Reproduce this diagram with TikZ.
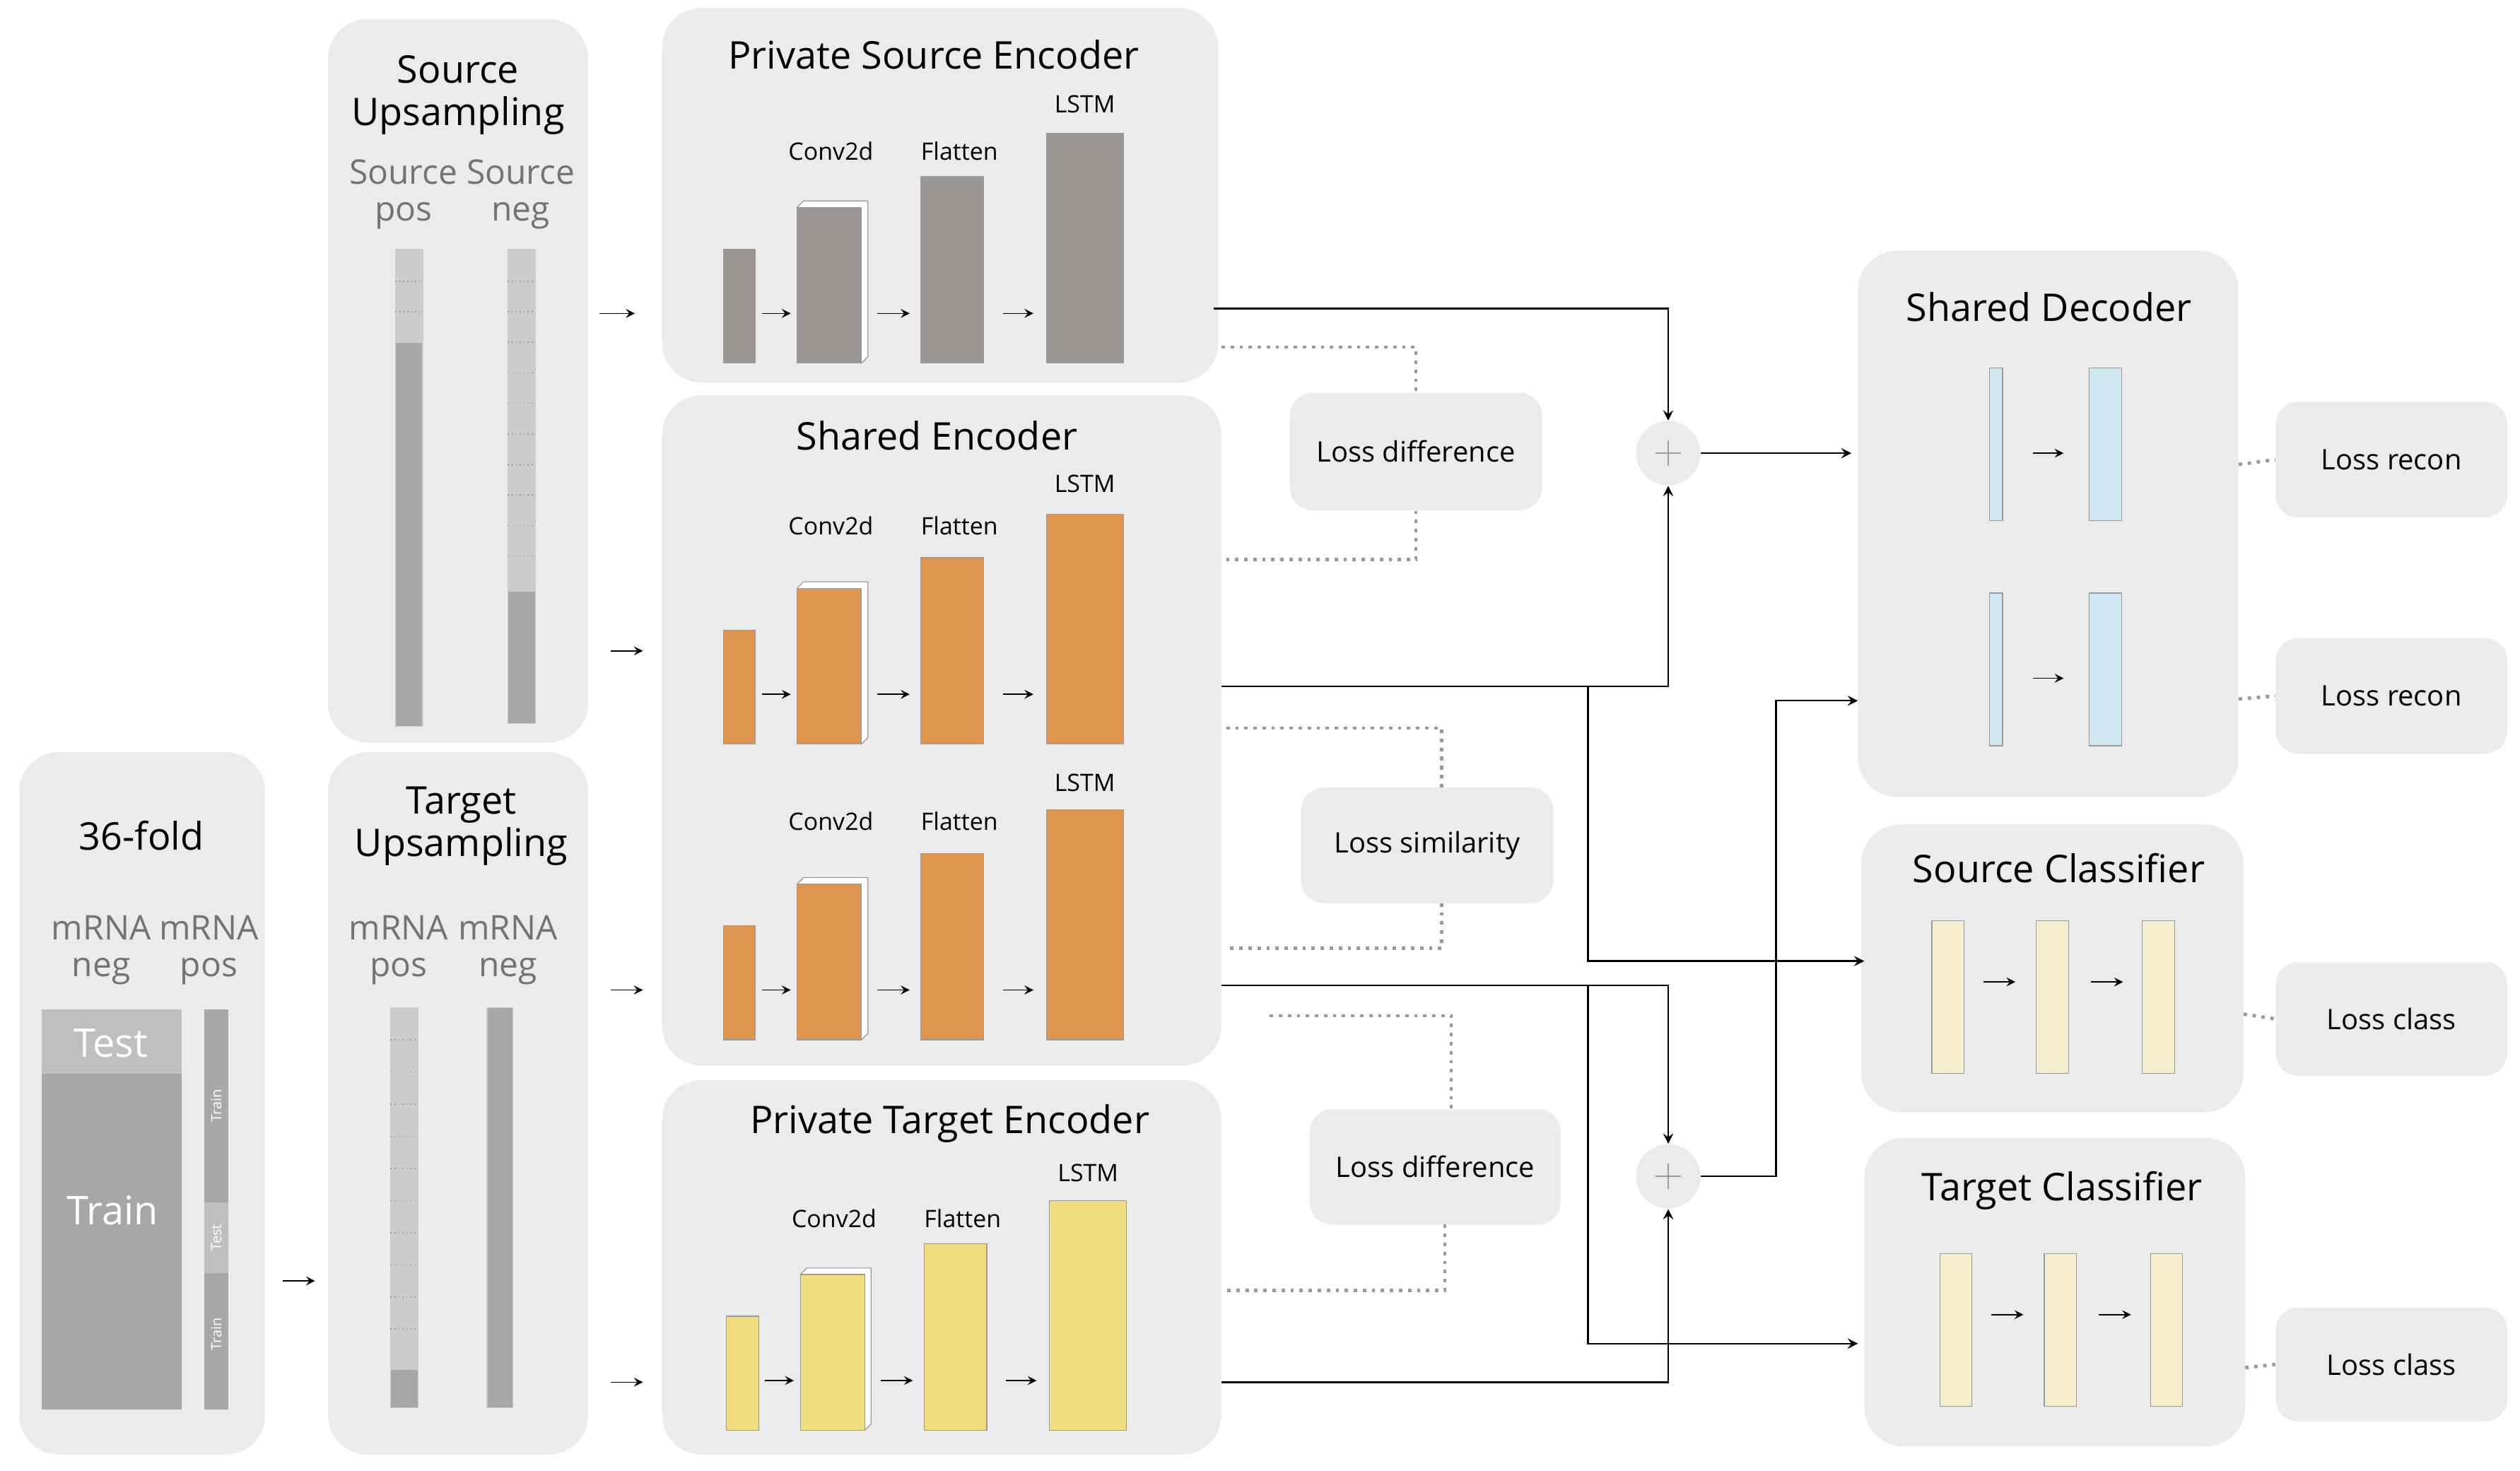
\documentclass[tikz,border=0pt]{standalone}
\usepackage{fontspec}
\setmainfont{Open Sans}
\begin{document}
\begin{tikzpicture}[x=0.02cm,y=-0.02cm,
 panel/.style={fill=black!8,draw=none,rounded corners=14},
 lbox/.style={fill=black!8,draw=none,rounded corners=8},
 ttl/.style={font=\fontsize{13.5}{15}\selectfont},
 sml/.style={font=\fontsize{8.5}{10}\selectfont},
 lss/.style={font=\fontsize{10}{12}\selectfont},
 gtx/.style={font=\fontsize{12}{13}\selectfont,text=black!55,align=center},
 arr/.style={->,>=stealth,thin},
 con/.style={->,>=stealth,line width=0.6pt},
 dot/.style={dotted,line width=1.2pt,black!40},
 gbar/.style={fill=gray!75!black!55,draw=white!80!black,line width=0.3pt},
 lbar/.style={fill=black!20,draw=white!80!black,line width=0.3pt}]
\definecolor{og}{HTML}{E0954E}\definecolor{yw}{HTML}{EEDC7E}
\definecolor{bl}{HTML}{CFE6F3}\definecolor{cr}{HTML}{F5EDCB}\definecolor{gy}{HTML}{9B9594}
\useasboundingbox (0,0) rectangle (1568,915);
% panels
\draw[panel] (12,468) rectangle (165,905);
\draw[panel] (204,12) rectangle (366,462);
\draw[panel] (204,468) rectangle (366,905);
\draw[panel] (412,5) rectangle (758,238);
\draw[panel] (412,246) rectangle (760,663);
\draw[panel] (412,672) rectangle (760,905);
\draw[panel] (1156,156) rectangle (1393,496);
\draw[panel] (1158,513) rectangle (1396,692);
\draw[panel] (1160,708) rectangle (1397,900);
\node[lbox,minimum width=3.14cm,minimum height=1.46cm,lss] (ld1) at (881,281) {Loss difference};
\node[lbox,minimum width=3.14cm,minimum height=1.44cm,lss] (ls) at (888,526) {Loss similarity};
\node[lbox,minimum width=3.12cm,minimum height=1.44cm,lss] (ld2) at (893,726) {Loss difference};
\node[lbox,minimum width=2.88cm,minimum height=1.44cm,lss] (lr1) at (1488,286) {Loss recon};
\node[lbox,minimum width=2.88cm,minimum height=1.44cm,lss] (lr2) at (1488,433) {Loss recon};
\node[lbox,minimum width=2.88cm,minimum height=1.42cm,lss] (lc1) at (1488,634) {Loss class};
\node[lbox,minimum width=2.88cm,minimum height=1.42cm,lss] (lc2) at (1488,849) {Loss class};
% titles
\node[ttl] at (88,520) {36-fold};
\node[ttl,align=center] at (285,59) {Source\\Upsampling};
\node[ttl,align=center] at (287,514) {Target\\Upsampling};
\node[ttl] at (581,34) {Private Source Encoder};
\node[ttl] at (583,271) {Shared Encoder};
\node[ttl] at (591,699) {Private Target Encoder};
\node[ttl] at (1275,191) {Shared Decoder};
\node[ttl] at (1281,540) {Source Classifier};
\node[ttl] at (1283,741) {Target Classifier};
\node[gtx] at (251,121) {Source\\pos};
\node[gtx] at (324,121) {Source\\neg};
\node[gtx] at (63,591) {mRNA\\neg};
\node[gtx] at (130,591) {mRNA\\pos};
\node[gtx] at (248,591) {mRNA\\pos};
\node[gtx] at (316,591) {mRNA\\neg};
% upsampling bars
\draw[gbar] (246,155) rectangle (263,452); \draw[lbar] (246,155) rectangle (263,213);
\foreach \y in {175,194} \draw[white!60!black,densely dotted] (246,\y)--(263,\y);
\draw[gbar] (316,155) rectangle (333,450); \draw[lbar] (316,155) rectangle (333,368);
\foreach \y in {175,194,...,360} \draw[white!60!black,densely dotted] (316,\y)--(333,\y);
\draw[gbar] (243,627) rectangle (260,876); \draw[lbar] (243,627) rectangle (260,852);
\foreach \y in {647,667,...,845} \draw[white!60!black,densely dotted] (243,\y)--(260,\y);
\draw[gbar] (303,627) rectangle (319,876);
% 36-fold
\draw[gbar,draw=none] (26,628) rectangle (113,877);
\fill[black!25] (26,628) rectangle (113,668);
\node[text=white,font=\fontsize{14}{15}\selectfont] at (69,649) {Test};
\node[text=white,font=\fontsize{14}{15}\selectfont] at (70,753) {Train};
\draw[gbar,draw=none] (127,628) rectangle (142,877);
\fill[black!25] (127,748) rectangle (142,792);
\node[rotate=90,text=white,font=\fontsize{5}{6}\selectfont] at (134.5,688) {Train};
\node[rotate=90,text=white,font=\fontsize{5}{6}\selectfont] at (134.5,770) {Test};
\node[rotate=90,text=white,font=\fontsize{5}{6}\selectfont] at (134.5,830) {Train};
% input arrows
\draw[arr] (373,195)--(395,195); \draw[arr] (380,405)--(400,405);
\draw[arr] (380,616)--(400,616); \draw[arr] (380,860)--(400,860);
\draw[arr] (176,797)--(196,797);
% encoder macro
\newcommand\encrow[6]{% #1 color, #2 x0 small, #3 ybot, #4 dx shift, #5 label y, #6 lstm label y
 \begin{scope}[shift={(#4,0)}]
 \draw[fill=#1,draw=black!40,line width=0.3pt] (450,#3-71) rectangle (470,#3);
 \draw[fill=white,draw=black!40,line width=0.3pt] (496,#3-97)--(500,#3-101)--(540,#3-101)--(540,#3-4)--(536,#3)--cycle;
 \draw[fill=#1,draw=black!40,line width=0.3pt] (496,#3-97) rectangle (536,#3);
 \draw[fill=#1,draw=black!40,line width=0.3pt] (573,#3-116) rectangle (612,#3);
 \draw[fill=#1,draw=black!40,line width=0.3pt] (651,#3-143) rectangle (699,#3);
 \draw[arr] (474,#3-31)--(492,#3-31);
 \draw[arr] (546,#3-31)--(566,#3-31);
 \draw[arr] (624,#3-31)--(643,#3-31);
 \node[sml] at (517,#5) {Conv2d};
 \node[sml] at (597,#5) {Flatten};
 \node[sml] at (675,#6) {LSTM};
 \end{scope}}
\encrow{gy}{450}{226}{0}{94}{65}
\encrow{og}{450}{463}{0}{327}{301}
\encrow{og}{450}{647}{0}{511}{487}
\encrow{yw}{450}{890}{2}{758}{730}
% decoder / classifier bars
\foreach \y in {229,369}{
 \draw[fill=bl,draw=black!40,line width=0.3pt] (1238,\y) rectangle (1246,\y+95);
 \draw[fill=bl,draw=black!40,line width=0.3pt] (1300,\y) rectangle (1320,\y+95);
 \draw[arr] (1265,\y+53)--(1284,\y+53);}
\foreach \x/\y in {1202/573,1207/780}{
 \foreach \d in {0,65,131} \draw[fill=cr,draw=black!40,line width=0.3pt] (\x+\d,\y) rectangle (\x+\d+20,\y+95);
 \draw[arr] (\x+32,\y+38)--(\x+52,\y+38);
 \draw[arr] (\x+99,\y+38)--(\x+119,\y+38);}
% plus circles
\node[circle,fill=black!8,minimum size=0.8cm,inner sep=0] (p1) at (1038,282) {};
\node[circle,fill=black!8,minimum size=0.8cm,inner sep=0] (p2) at (1038,732) {};
\draw[black!40] (1030,282)--(1046,282) (1038,274)--(1038,290);
\draw[black!40] (1030,732)--(1046,732) (1038,724)--(1038,740);
% connectors
\draw[con] (755,192)-|(p1.north);
\draw[con] (760,427)-|(p1.south);
\draw[con] (988,427)|-(1160,598);
\draw[con] (p1.east)--(1152,282);
\draw[con] (760,613)-|(p2.north);
\draw[con] (988,613)|-(1156,836);
\draw[con] (760,860)-|(p2.south);
\draw[con] (p2.east)-|(1105,436)--(1156,436);
% dotted
\draw[dot] (760,216)-|(ld1.north); \draw[dot] (ld1.south)|-(763,348);
\draw[dot] (763,453)-|(ls.north west -| 897,0); 
\draw[dot] (897,490)--(897,453);
\draw[dot] (897,562)|-(763,590);
\draw[dot] (790,632)-|(903,690);
\draw[dot] (899,762)|-(763,803);
\draw[dot] (1393,289)--(lr1.west); \draw[dot] (1393,435)--(lr2.west);
\draw[dot] (1396,631)--(lc1.west); \draw[dot] (1397,851)--(lc2.west);
\end{tikzpicture}
\end{document}
